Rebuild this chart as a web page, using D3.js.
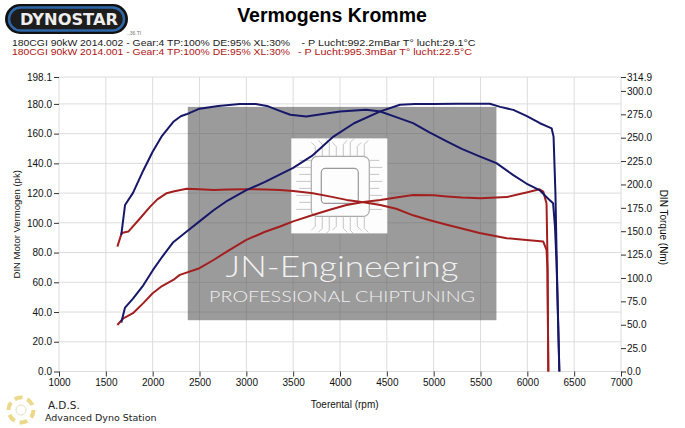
<!DOCTYPE html>
<html>
<head>
<meta charset="utf-8">
<script src="https://cdn.jsdelivr.net/npm/d3@7"></script>
<style>
  body { margin: 0; background: #fff; }
  svg { display: block; font-family: "Liberation Sans", Arial, sans-serif; }
</style>
</head>
<body>
<div id="wrapper"></div>
<script>
// run 2014.002 (blue) - power in pk, torque in Nm
const bluePowerRpm = [1665, 1705, 1790, 1900, 2000, 2100, 2220, 2360, 2500, 2650, 2800, 3000, 3200, 3500, 3700, 3930, 4150, 4430, 4640, 4800, 5000, 5250, 5600, 5710, 5850, 5990, 6135, 6205, 6260, 6280, 6300, 6315, 6330, 6342]
const bluePower = [33, 43, 49, 58, 68, 77, 87, 94, 101, 108.5, 115, 122, 127.5, 137, 145, 158, 167, 175, 179.4, 180, 180, 180.1, 180.1, 178, 176, 172, 167, 165, 163.5, 158, 120, 70, 30, 0]

const blueTorqueRpm = [1665, 1705, 1790, 1900, 2000, 2100, 2220, 2300, 2360, 2500, 2700, 2930, 3100, 3220, 3350, 3470, 3640, 3800, 4000, 4280, 4430, 4600, 4780, 4950, 5140, 5300, 5490, 5670, 5850, 5990, 6130, 6220, 6275, 6295, 6312, 6330, 6342]
const blueTorque = [146, 178, 191, 215, 235, 252, 267, 273, 275, 281, 284, 286, 286, 284, 279, 274.5, 272.6, 275, 278, 280, 278, 272, 265.6, 256, 246, 238, 230, 222.8, 210, 201, 194, 185, 180, 155, 116, 48, 0]

// run 2014.001 (red)
const redPowerRpm = [1623, 1687, 1790, 1900, 2000, 2100, 2220, 2290, 2500, 2650, 2800, 3000, 3200, 3360, 3500, 3710, 3900, 4070, 4250, 4430, 4600, 4780, 5000, 5140, 5300, 5500, 5780, 5990, 6130, 6170, 6205, 6215, 6224]
const redPower = [31.3, 35.8, 39.2, 46, 52.6, 57.5, 61.6, 65, 69.5, 75, 81, 88.5, 94, 97.5, 101, 105.3, 109, 112, 114, 115.4, 117, 118.8, 118.5, 117.7, 117, 116.6, 117.3, 120.4, 122.6, 121, 113, 77, 0]

const redTorqueRpm = [1623, 1669, 1740, 1850, 1971, 2050, 2150, 2220, 2363, 2500, 2650, 2800, 3000, 3200, 3360, 3500, 3710, 3900, 4070, 4250, 4430, 4600, 4780, 4950, 5140, 5300, 5490, 5780, 5990, 6170, 6205, 6215, 6224]
const redTorque = [133.5, 148, 149.6, 162, 176, 184, 190.7, 192.4, 195.3, 195, 194.2, 194.5, 195, 194.5, 194.2, 193, 190.7, 187, 183.5, 181, 178, 174, 167, 162, 157, 153, 148, 142.5, 140.7, 138.9, 130, 110, 0]

const rpmTicks = [1000, 1500, 2000, 2500, 3000, 3500, 4000, 4500, 5000, 5500, 6000, 6500, 7000]
const powerTicks = [0, 20, 40, 60, 80, 100, 120, 140, 160, 180, 198.1]
const torqueTicks = [0, 25, 50, 75, 100, 125, 150, 175, 200, 225, 250, 275, 300, 314.9]

const runLabels = [
  "180CGI 90kW 2014.002 - Gear:4 TP:100% DE:95% XL:30%",
  "180CGI 90kW 2014.001 - Gear:4 TP:100% DE:95% XL:30%",
]
const airLabels = [
  "- P Lucht:992.2mBar T° lucht:29.1°C",
  "- P Lucht:995.3mBar T° lucht:22.5°C",
]

function drawChart() {
  let dimensions = {
    width: 685,
    height: 428,
    margin: { top: 77, right: 64, bottom: 56.5, left: 59 },
  }
  dimensions.boundedWidth = dimensions.width - dimensions.margin.left - dimensions.margin.right
  dimensions.boundedHeight = dimensions.height - dimensions.margin.top - dimensions.margin.bottom

  const blue = "#17176a"
  const red = "#a31f1f"

  const wrapper = d3.select("#wrapper")
    .append("svg")
      .attr("width", dimensions.width)
      .attr("height", dimensions.height)

  // header
  const logo = wrapper.append("g")
  logo.append("rect")
    .attr("x", 5).attr("y", 4).attr("width", 123).attr("height", 30)
    .attr("rx", 15).attr("fill", "#111")
  logo.append("rect")
    .attr("x", 9).attr("y", 7.5).attr("width", 115).attr("height", 23)
    .attr("rx", 11.5).attr("fill", "#1d1d1d")
    .attr("stroke", "#2f66a8").attr("stroke-width", 2.5)
  logo.append("text")
    .attr("x", 20).attr("y", 25)
    .attr("textLength", 98).attr("lengthAdjust", "spacingAndGlyphs")
    .attr("fill", "#eee")
    .style("font-family", "'DejaVu Sans', sans-serif")
    .style("font-weight", "bold")
    .style("font-size", "15px")
    .text("DYNOSTAR")
  logo.append("text")
    .attr("x", 127).attr("y", 35)
    .attr("fill", "#777")
    .style("font-size", "5px")
    .text("..36.TI")

  wrapper.append("text")
    .attr("x", 332).attr("y", 22)
    .attr("text-anchor", "middle")
    .style("font-weight", "bold")
    .style("font-size", "19.5px")
    .text("Vermogens Kromme")

  const infoColors = ["#1a1a1a", "#b01414"]
  runLabels.forEach((t, i) => {
    wrapper.append("text")
      .attr("x", 12).attr("y", 46 + i * 8.5)
      .attr("textLength", 278).attr("lengthAdjust", "spacingAndGlyphs")
      .attr("fill", infoColors[i])
      .style("font-size", "8.5px")
      .text(t)
    wrapper.append("text")
      .attr("x", 301.5 - i * 3.5).attr("y", 46 + i * 8.5)
      .attr("textLength", 174).attr("lengthAdjust", "spacingAndGlyphs")
      .attr("fill", infoColors[i])
      .style("font-size", "8.5px")
      .text(airLabels[i])
  })

  const bounds = wrapper.append("g")
      .style("transform", `translate(${
        dimensions.margin.left
      }px, ${
        dimensions.margin.top
      }px)`)

  const xScale = d3.scaleLinear()
    .domain([1000, 7000])
    .range([0, dimensions.boundedWidth])

  const yScale = d3.scaleLinear()
    .domain([0, 198.1])
    .range([dimensions.boundedHeight, 0])

  const yTorqueScale = d3.scaleLinear()
    .domain([0, 314.9])
    .range([dimensions.boundedHeight, 0])

  // grid
  const grid = bounds.append("g")
    .attr("stroke", "#dcdcdc").attr("stroke-width", 1)
  grid.selectAll(".vgrid")
    .data(rpmTicks)
    .enter().append("line")
      .attr("x1", d => xScale(d)).attr("x2", d => xScale(d))
      .attr("y1", 0).attr("y2", dimensions.boundedHeight)
  grid.selectAll(".hgrid")
    .data(powerTicks)
    .enter().append("line")
      .attr("x1", 0).attr("x2", dimensions.boundedWidth)
      .attr("y1", d => yScale(d)).attr("y2", d => yScale(d))

  // watermark
  const wm = bounds.append("g")
  const wmX = xScale(2375), wmW = xScale(5670) - xScale(2375)
  const wmY = yScale(178), wmH = yScale(34.5) - yScale(178)
  wm.append("rect")
    .attr("x", wmX).attr("y", wmY).attr("width", wmW).attr("height", wmH)
    .attr("fill", "#555").attr("opacity", 0.59)
  const chipX = wmX + 103.5, chipY = wmY + 31.5, chipS = 96
  wm.append("rect")
    .attr("x", chipX).attr("y", chipY).attr("width", chipS).attr("height", chipS - 1)
    .attr("fill", "#fdfdfd")
  wm.append("rect")
    .attr("x", chipX + 20).attr("y", chipY + 18).attr("width", 58).attr("height", 60)
    .attr("rx", 6).attr("fill", "none").attr("stroke", "#aaa").attr("stroke-width", 1.2)
  wm.append("rect")
    .attr("x", chipX + 30).attr("y", chipY + 30).attr("width", 37).attr("height", 35)
    .attr("rx", 4).attr("fill", "none").attr("stroke", "#999").attr("stroke-width", 1.2)
  const pins = d3.range(0, 8)
  const traces = wm.append("g").attr("stroke", "#b8b8b8").attr("stroke-width", 0.8).attr("fill", "none")
  pins.forEach(i => {
    const p = chipX + 24 + i * 7
    traces.append("path").attr("d", `M${p},${chipY + 18} V${chipY + 8 - (i % 3) * 2} l${i < 4 ? -4 : 4},-4`)
    traces.append("path").attr("d", `M${p},${chipY + 78} V${chipY + 88 + (i % 3) * 2} l${i < 4 ? -4 : 4},4`)
    const q = chipY + 22 + i * 7
    traces.append("path").attr("d", `M${chipX + 20},${q} H${chipX + 8 - (i % 2) * 3}`)
    traces.append("path").attr("d", `M${chipX + 78},${q} H${chipX + 88 + (i % 2) * 3}`)
  })
  wm.append("text")
    .attr("x", wmX + wmW / 2).attr("y", wmY + 170)
    .attr("text-anchor", "middle")
    .attr("textLength", 233).attr("lengthAdjust", "spacingAndGlyphs")
    .attr("fill", "#f2f2f2")
    .style("font-family", "Lato, 'Open Sans', sans-serif")
    .style("font-weight", 300)
    .style("font-size", "30px")
    .text("JN-Engineering")
  wm.append("text")
    .attr("x", wmX + wmW / 2).attr("y", wmY + 195)
    .attr("text-anchor", "middle")
    .attr("textLength", 266).attr("lengthAdjust", "spacingAndGlyphs")
    .attr("fill", "#efefef")
    .style("font-family", "Lato, 'Open Sans', sans-serif")
    .style("font-weight", 300)
    .style("font-size", "15px")
    .text("PROFESSIONAL CHIPTUNING")

  // curves
  const powerLine = d3.line()
    .x(d => xScale(d[0]))
    .y(d => yScale(d[1]))
  const torqueLine = d3.line()
    .x(d => xScale(d[0]))
    .y(d => yTorqueScale(d[1]))

  const series = [
    { rpm: redTorqueRpm, vals: redTorque, line: torqueLine, color: red },
    { rpm: redPowerRpm, vals: redPower, line: powerLine, color: red },
    { rpm: blueTorqueRpm, vals: blueTorque, line: torqueLine, color: blue },
    { rpm: bluePowerRpm, vals: bluePower, line: powerLine, color: blue },
  ]
  series.forEach(s => {
    bounds.append("path")
      .datum(d3.zip(s.rpm, s.vals))
      .attr("d", s.line)
      .attr("fill", "none")
      .attr("stroke", s.color)
      .attr("stroke-width", 2)
      .attr("stroke-linejoin", "round")
  })

  // axes
  const xAxisGenerator = d3.axisBottom()
    .scale(xScale)
    .tickValues(rpmTicks)
    .tickFormat(d3.format("d"))
    .tickSize(5)
    .tickPadding(2)
  const xAxis = bounds.append("g")
      .call(xAxisGenerator)
      .style("transform", `translateY(${dimensions.boundedHeight}px)`)

  const yAxisGenerator = d3.axisLeft()
    .scale(yScale)
    .tickValues(powerTicks)
    .tickFormat(d3.format(".1f"))
    .tickSize(5)
    .tickPadding(2)
  const yAxis = bounds.append("g")
      .call(yAxisGenerator)

  const yTorqueAxisGenerator = d3.axisRight()
    .scale(yTorqueScale)
    .tickValues(torqueTicks)
    .tickFormat(d3.format(".1f"))
    .tickSize(5)
    .tickPadding(1)
  const yTorqueAxis = bounds.append("g")
      .call(yTorqueAxisGenerator)
      .style("transform", `translateX(${dimensions.boundedWidth}px)`)

  ;[xAxis, yAxis, yTorqueAxis].forEach(a => {
    a.select(".domain").remove()
    a.selectAll(".tick line").attr("stroke", "#333")
    a.selectAll(".tick text")
      .attr("fill", "#111")
      .style("font-family", "'Liberation Sans Narrow', 'Liberation Sans', Arial, sans-serif")
      .style("font-size", "10px")
  })

  xAxis.append("text")
    .attr("x", xScale(4050))
    .attr("y", 36)
    .attr("fill", "#111")
    .style("font-size", "10px")
    .style("text-anchor", "middle")
    .text("Toerental (rpm)")

  yAxis.append("text")
    .attr("x", -yScale(99))
    .attr("y", -39)
    .attr("fill", "#111")
    .style("font-size", "9.5px")
    .style("text-anchor", "middle")
    .style("transform", "rotate(-90deg)")
    .text("DIN Motor Vermogen (pk)")

  yTorqueAxis.append("text")
    .attr("x", yScale(99) + 3)
    .attr("y", -39)
    .attr("fill", "#111")
    .style("font-size", "10px")
    .style("text-anchor", "middle")
    .style("transform", "rotate(90deg)")
    .text("DIN Torque (Nm)")

  // footer
  const ads = wrapper.append("g").attr("transform", "translate(21,410)")
  ads.append("circle").attr("r", 12.5)
    .attr("fill", "none").attr("stroke", "#ecd88a").attr("stroke-width", 4)
    .attr("stroke-dasharray", "8 5")
  ads.append("circle").attr("r", 5)
    .attr("fill", "none").attr("stroke", "#e6dfc0").attr("stroke-width", 1)
  wrapper.append("text")
    .attr("x", 48).attr("y", 408.5)
    .attr("fill", "#222")
    .style("font-family", "'DejaVu Sans', sans-serif")
    .style("font-size", "10.5px")
    .text("A.D.S.")
  wrapper.append("text")
    .attr("x", 45).attr("y", 421)
    .attr("fill", "#222")
    .style("font-family", "'DejaVu Sans', sans-serif")
    .style("font-size", "9.5px")
    .text("Advanced Dyno Station")
}

drawChart()
</script>
</body>
</html>
